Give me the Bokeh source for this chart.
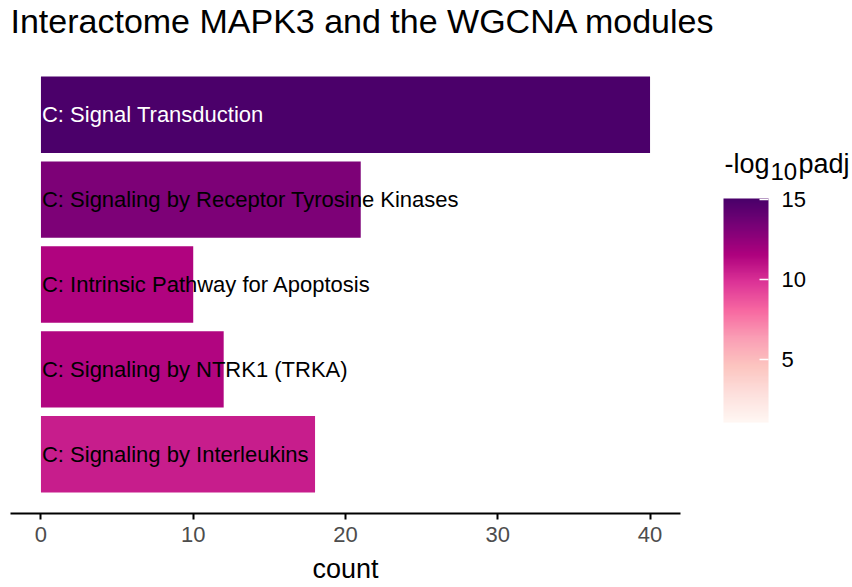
import numpy as np
from bokeh.plotting import figure
from bokeh.layouts import row, column
from bokeh.models import ColumnDataSource, LinearColorMapper, ColorBar, Range1d, FixedTicker
from bokeh.transform import transform
from bokeh.palettes import RdPu9
from bokeh.core.properties import value
from bokeh.embed import file_html
from bokeh.resources import INLINE

# ---- data ----
title = "Interactome MAPK3 and the WGCNA modules"
terms = [
    "C: Signal Transduction",
    "C: Signaling by Receptor Tyrosine Kinases",
    "C: Intrinsic Pathway for Apoptosis",
    "C: Signaling by NTRK1 (TRKA)",
    "C: Signaling by Interleukins",
]
counts = [40, 21, 10, 12, 18]
neglog10_padj = [15.0, 13.2, 11.5, 11.4, 10.6]
x_ticks = [0, 10, 20, 30, 40]
cbar_ticks = [5, 10, 15]
legend_title = ["-log", "10", "padj"]   # -log10 padj, "10" as subscript

FONT = "Liberation Sans"
W, H = 850, 586
TOP, BOTTOM = 55, 514   # plot frame edges (px from page top)
W_MAIN = 716


def bare(fig):
    fig.xgrid.visible = False
    fig.ygrid.visible = False
    fig.outline_line_color = None
    fig.title = None
    return fig


# colour palette: RdPu (light -> dark), interpolated
base = list(reversed(RdPu9))
rgb = np.array([[int(c[i:i + 2], 16) for i in (1, 3, 5)] for c in base], float)
pos = np.linspace(0, 1, len(base))
pal = ["#%02x%02x%02x" % tuple(int(round(np.interp(t, pos, rgb[:, k]))) for k in range(3))
       for t in np.linspace(0, 1, 256)]
mapper = LinearColorMapper(palette=pal, low=1.06, high=15.06)

# ---- title strip ----
tf = bare(figure(width=W, height=TOP, output_backend="svg", toolbar_location=None,
                 x_range=Range1d(0, W), y_range=Range1d(TOP, 0),
                 x_axis_type=None, y_axis_type=None,
                 min_border_left=0, min_border_right=0, min_border_top=0, min_border_bottom=0))
tf.text(x=[10], y=[20], text=[title], text_font=value(FONT), text_font_size="34px",
        text_color="black", text_align="left", text_baseline="middle")

# ---- main bar chart ----
n = len(terms)
src = ColumnDataSource(dict(
    y=[n - i for i in range(n)],
    term=terms,
    count=counts,
    padj=neglog10_padj,
    tcolor=["white" if v > 14 else "black" for v in neglog10_padj],
))

p = bare(figure(width=W_MAIN, height=H - TOP, output_backend="svg", toolbar_location=None,
                x_range=Range1d(-2, 42), y_range=Range1d(0.303, 5.697),
                min_border_left=10, min_border_right=W_MAIN - 680, min_border_top=0,
                min_border_bottom=H - BOTTOM))

p.hbar(y="y", left=0, right="count", height=0.9, source=src,
       fill_color=transform("padj", mapper), line_color=None)
p.text(x=0, y="y", text="term", source=src, x_offset=1,
       text_font=value(FONT), text_font_size="22px", text_color="tcolor",
       text_align="left", text_baseline="middle")
p.yaxis.visible = False

ax = p.xaxis[0]
ax.ticker = FixedTicker(ticks=x_ticks)
ax.axis_label = "count"
ax.axis_label_text_font = FONT
ax.axis_label_text_font_size = "27px"
ax.axis_label_text_font_style = "normal"
ax.axis_label_text_color = "black"
ax.axis_label_standoff = 9
ax.major_label_text_font = FONT
ax.major_label_text_font_size = "22px"
ax.major_label_text_color = "#4D4D4D"
ax.major_label_standoff = 7
ax.axis_line_width = 2
ax.axis_line_color = "black"
ax.major_tick_line_width = 2
ax.major_tick_line_color = "black"
ax.major_tick_in = 0
ax.major_tick_out = 6
ax.minor_tick_line_color = None

# ---- legend panel (colour bar) ----
q = bare(figure(width=W - W_MAIN, height=H - TOP, output_backend="svg", toolbar_location=None,
                x_range=Range1d(0, W - W_MAIN), y_range=Range1d(BOTTOM, TOP),
                x_axis_type=None, y_axis_type=None,
                min_border_left=0, min_border_right=0, min_border_top=0,
                min_border_bottom=H - BOTTOM))

lt = ColumnDataSource(dict(
    x=[8, 54, 82], y=[164, 171, 164], text=legend_title,
    size=["27px", "24px", "27px"],
))
q.text(x="x", y="y", text="text", source=lt, text_font=value(FONT),
       text_font_size="size", text_color="black",
       text_align="left", text_baseline="middle")

cb = ColorBar(color_mapper=mapper, ticker=FixedTicker(ticks=cbar_ticks),
              location=(7, BOTTOM - 423), width=45, height=224, padding=0, margin=0,
              major_label_text_font=FONT, major_label_text_font_size="22px",
              major_label_text_color="black", label_standoff=13,
              major_tick_line_color="white", major_tick_line_width=1.5,
              major_tick_in=9, major_tick_out=0, minor_tick_line_color=None,
              bar_line_color=None, border_line_color=None, background_fill_color=None)
q.add_layout(cb, "center")

layout = column(tf, row(p, q))
open("out.html", "w").write(file_html(layout, INLINE))
